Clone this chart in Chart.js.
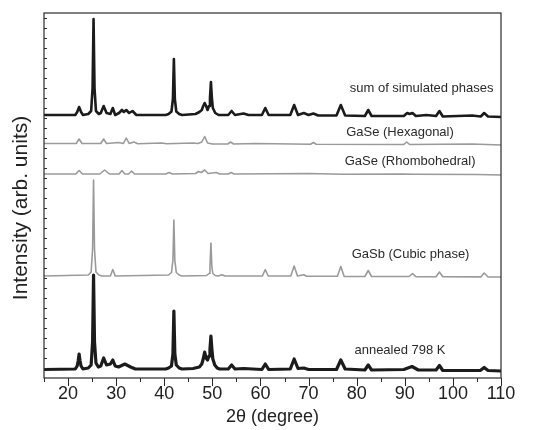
<!DOCTYPE html>
<html>
<head>
<meta charset="utf-8">
<script src="https://cdn.jsdelivr.net/npm/chart.js@4.4.0/dist/chart.umd.min.js"></script>
<style>
  html, body { margin: 0; padding: 0; background: #fff; }
</style>
</head>
<body>
<canvas id="xrdChart" width="553" height="430"></canvas>
<script>
// Axis ticks
const xMajorTicks = [20, 30, 40, 50, 60, 70, 80, 90, 100, 110];
const xMinorTicks = [15, 25, 35, 45, 55, 65, 75, 85, 95, 105];

// Trace names (as printed next to each pattern)
const traceNames = ['sum of simulated phases', 'GaSe (Hexagonal)', 'GaSe (Rhombohedral)', 'GaSb (Cubic phase)', 'annealed 798 K'];

// Patterns, [2theta, intensity] (stacked, arb. units)
const sumSimulated = [
  [15, 263], [21.5, 263], [21.9, 266], [22.3, 271], [22.7, 266], [23.1, 263], [24.2, 264], [24.8, 267],
  [25.1, 290], [25.3, 359], [25.5, 290], [25.8, 267], [26.4, 264], [26.8, 265],
  [27.4, 272], [28.0, 265], [28.8, 264], [29.3, 270], [29.8, 263], [30.6, 265], [31.2, 268], [31.6, 266],
  [32.1, 268], [32.7, 265], [33.4, 267], [34.2, 263], [40.3, 263], [40.9, 264], [41.5, 266.5], [41.8, 279],
  [42.0, 319], [42.2, 279], [42.5, 266.5], [43.1, 264], [43.7, 263], [46.5, 264],
  [47.3, 266], [47.8, 268], [48.1, 272], [48.4, 275], [48.7, 272], [49.0, 268], [49.3, 272], [49.5, 280],
  [49.7, 296], [49.9, 280], [50.1, 270], [50.6, 265], [51.3, 263],
  [53.3, 263], [54.0, 267], [54.7, 263], [56.5, 264.5], [57.5, 263], [60.3, 263], [61.0, 270], [61.7, 263],
  [66.2, 263], [67.0, 273], [67.8, 263], [69.0, 265], [70.0, 263], [71.0, 264.5], [72.0, 262.5],
  [75.8, 262.5], [76.7, 273], [77.6, 262.5], [81.7, 262], [82.4, 268], [83.1, 262], [89.8, 262],
  [90.5, 265], [91.0, 264], [91.6, 265], [92.3, 262], [94.5, 263], [96.5, 262], [97.2, 267], [97.9, 261.5],
  [104.0, 262.5], [105.8, 261.5], [106.5, 265], [107.3, 261.5], [110, 261]
];

const gaseHexagonal = [
  [15, 234.5], [21.7, 234.5], [22.3, 239], [22.9, 234.5], [26.8, 234.5], [27.4, 239], [28.0, 234.5],
  [30.5, 235.5], [31.5, 234.5], [32.1, 240], [32.7, 234.5], [33.7, 236], [34.5, 234.3], [39.5, 235],
  [40.5, 234.2], [46.0, 235], [47.0, 234.5], [47.8, 236], [48.4, 241.5], [49.0, 235], [50.0, 234],
  [53.2, 234], [53.8, 236], [54.4, 234], [59.0, 234.5], [70.4, 233.7], [71.0, 235.5], [71.6, 233.7],
  [89.8, 233.5], [90.4, 236], [91.0, 233.5], [104.0, 234], [110, 233]
];

const gaseRhombohedral = [
  [15, 204], [21.6, 204], [22.3, 207.5], [23.0, 204], [26.6, 204], [27.6, 208], [28.6, 204],
  [30.6, 204], [31.2, 207.5], [31.8, 204], [32.6, 204], [33.2, 207], [33.8, 204], [40.3, 204],
  [41.0, 205.5], [41.7, 204], [46.5, 204.5], [47.1, 206.5], [47.7, 205.5], [48.4, 208], [49.1, 204.5],
  [50.8, 205.5], [51.5, 204], [53.3, 204], [53.9, 205.5], [54.5, 204], [70.0, 204.5], [77.0, 203.8],
  [89.5, 204], [92.0, 203.7], [105.0, 203.5], [110, 203]
];

const gasbCubic = [
  [15, 102], [24.2, 103], [24.8, 106], [25.1, 129], [25.3, 198], [25.5, 129], [25.8, 106], [26.4, 103],
  [27.0, 102], [28.8, 102], [29.3, 108.5], [29.8, 102], [40.9, 103], [41.5, 105.5], [41.8, 117.5],
  [42.0, 158], [42.2, 117.5], [42.5, 105.5], [43.1, 103], [43.7, 102], [48.8, 102.5], [49.3, 104.5],
  [49.5, 111], [49.7, 135], [49.9, 111], [50.1, 104.5], [50.6, 102.5], [51.2, 102], [52.0, 103.3],
  [52.6, 102], [60.4, 102], [61.0, 108.5], [61.6, 102], [66.3, 102], [67.0, 112], [67.7, 102],
  [69.0, 103.3], [69.6, 101.8], [76.0, 101.8], [76.7, 111.5], [77.4, 101.5], [81.7, 101.5], [82.4, 107.5],
  [83.1, 101.5], [90.9, 101.5], [91.6, 104.5], [92.3, 101.3], [96.5, 101.3], [97.2, 106], [97.9, 101.2],
  [105.8, 101.1], [106.5, 105], [107.3, 101], [110, 101]
];

const annealed798 = [
  [15, 8.5], [21.5, 9], [21.9, 12], [22.1, 17], [22.3, 24], [22.5, 17], [22.7, 12], [23.1, 9], [24.2, 10],
  [24.8, 13], [25.1, 36], [25.3, 103], [25.5, 36], [25.8, 15], [26.3, 11],
  [26.8, 12], [27.4, 20], [28.0, 13], [28.8, 14], [29.3, 18], [29.8, 12], [30.5, 11], [31.8, 14],
  [33.0, 11], [34.0, 9], [40.3, 9], [40.9, 10], [41.5, 12], [41.8, 24], [42.0, 67], [42.2, 24],
  [42.5, 13], [43.1, 10], [43.7, 9], [46.0, 9.5], [47.3, 11], [47.8, 14],
  [48.1, 19], [48.4, 26], [48.7, 20], [49.0, 18], [49.3, 22], [49.5, 29], [49.7, 42], [49.9, 29],
  [50.1, 19], [50.5, 13], [51.0, 10], [51.5, 9], [53.3, 9], [54.0, 13], [54.7, 9], [56.5, 9.5],
  [60.3, 8.5], [61.0, 14], [61.7, 8.5], [66.2, 9], [67.0, 19], [67.8, 9.5], [69.0, 10], [70.0, 8.5],
  [75.8, 8.5], [76.7, 18], [77.6, 9], [81.7, 8], [82.4, 13], [83.1, 8], [89.8, 8.5], [91.5, 11.5],
  [92.8, 8], [96.5, 8], [97.2, 12.5], [97.9, 7.5], [105.7, 7.5], [106.5, 10.5], [107.3, 7.5], [110, 7]
];

const patterns = [sumSimulated, gaseHexagonal, gaseRhombohedral, gasbCubic, annealed798];

// Look of each trace and where its name goes (data coords)
const traceStyle = [
  { color: '#1b1b1b', width: 2.6 },
  { color: '#9a9a9a', width: 1.6 },
  { color: '#9a9a9a', width: 1.6 },
  { color: '#9a9a9a', width: 1.6 },
  { color: '#1b1b1b', width: 3.2 }
];
const namePos = [[93.5, 290], [89.0, 246], [91.1, 217], [91.2, 124], [89.0, 28]];
const fontFamily = '"Liberation Sans", Arial, sans-serif';

const toXY = pts => pts.map(p => ({ x: p[0], y: p[1] }));

// Frame, tick marks, y title and trace names
const decorations = {
  id: 'decorations',
  afterDatasetsDraw(chart) {
    const { ctx, chartArea: a, scales: { x, y } } = chart;
    ctx.save();
    ctx.strokeStyle = '#2a2a2a';
    ctx.lineWidth = 1.2;
    ctx.strokeRect(a.left, a.top, a.right - a.left, a.bottom - a.top);

    ctx.lineWidth = 1;
    ctx.beginPath();
    xMajorTicks.forEach(v => {
      const px = Math.round(x.getPixelForValue(v)) + 0.5;
      ctx.moveTo(px, a.bottom);
      ctx.lineTo(px, a.bottom + 8);
    });
    xMinorTicks.forEach(v => {
      const px = Math.round(x.getPixelForValue(v)) + 0.5;
      ctx.moveTo(px, a.bottom);
      ctx.lineTo(px, a.bottom + 4);
    });
    // small ticks inside the left axis, no labels
    for (let v = 10; v < y.max; v += 10) {
      const py = Math.round(y.getPixelForValue(v)) + 0.5;
      ctx.moveTo(a.left, py);
      ctx.lineTo(a.left + 3, py);
    }
    ctx.stroke();

    ctx.fillStyle = '#222';
    ctx.font = '21px ' + fontFamily;
    ctx.textAlign = 'center';
    ctx.textBaseline = 'middle';
    ctx.translate(21, 208);
    ctx.rotate(-Math.PI / 2);
    ctx.fillText('Intensity (arb. units)', 0, 0);
    ctx.setTransform(1, 0, 0, 1, 0, 0);

    ctx.fillStyle = '#2a2a2a';
    ctx.font = '13px ' + fontFamily;
    traceNames.forEach((name, i) => {
      ctx.fillText(name, x.getPixelForValue(namePos[i][0]), y.getPixelForValue(namePos[i][1]));
    });
    ctx.restore();
  }
};

new Chart(document.getElementById('xrdChart'), {
  type: 'line',
  data: {
    datasets: patterns.map((pts, i) => ({
      label: traceNames[i],
      data: toXY(pts),
      borderColor: traceStyle[i].color,
      borderWidth: traceStyle[i].width,
      pointRadius: 0,
      tension: 0,
      fill: false,
      borderJoinStyle: 'round'
    }))
  },
  options: {
    responsive: false,
    animation: false,
    devicePixelRatio: 1,
    layout: { padding: { top: 13, right: 52, left: 0, bottom: 0 } },
    plugins: { legend: { display: false }, tooltip: { enabled: false } },
    scales: {
      x: {
        type: 'linear',
        min: 15,
        max: 110,
        afterBuildTicks: s => { s.ticks = xMajorTicks.map(v => ({ value: v })); },
        afterFit: s => { s.height = 52; s.paddingLeft = 0; s.paddingRight = 0; },
        grid: { display: false, drawTicks: false },
        border: { display: false },
        ticks: {
          padding: 5,
          color: '#222',
          font: { family: fontFamily, size: 18 },
          maxRotation: 0,
          autoSkip: false
        },
        title: {
          display: true,
          text: '2θ (degree)',
          color: '#222',
          font: { family: fontFamily, size: 18 },
          padding: { top: 0, bottom: 2 }
        }
      },
      y: {
        min: 0,
        max: 365,
        afterFit: s => { s.width = 44; },
        grid: { display: false, drawTicks: false },
        border: { display: false },
        ticks: { display: false }
      }
    }
  },
  plugins: [decorations]
});
</script>
</body>
</html>
